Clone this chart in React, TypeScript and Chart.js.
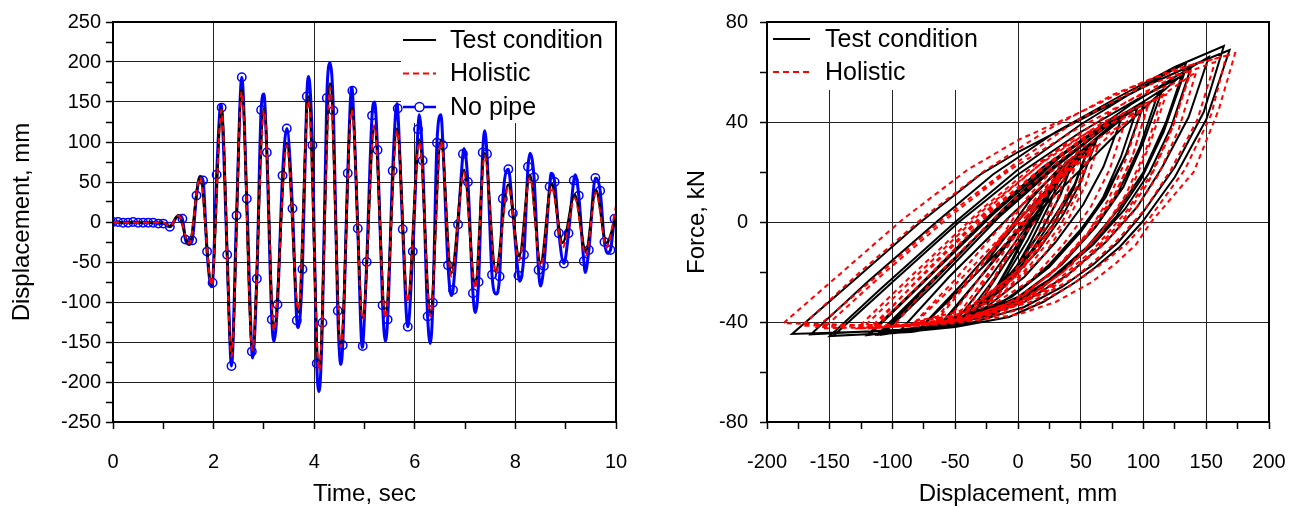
import React, { useEffect, useRef } from "react";
import { Chart, registerables } from "chart.js";
Chart.register(...registerables);

const FONT = "'Liberation Sans', Arial, Helvetica, sans-serif";

// ---------------- Left panel: displacement time histories ----------------
const peakTimes = [0, 0.5, 1.0, 1.13, 1.3, 1.515, 1.73, 1.96, 2.157, 2.356, 2.56, 2.77, 3.005, 3.2, 3.456, 3.686, 3.885, 4.097, 4.316, 4.528, 4.747, 4.965, 5.196, 5.414, 5.647, 5.859, 6.09, 6.31, 6.52, 6.725, 6.98, 7.2, 7.39, 7.61, 7.857, 8.076, 8.288, 8.5, 8.72, 8.94, 9.18, 9.4, 9.6, 9.81, 10.0];
const testDisp = [0, -1, -1, -5, 8, -28, 57, -78, 142, -165, 166, -158, 142, -133, 98, -113, 157, -182, 173, -153, 143, -120, 119, -115, 117, -97, 103, -113, 103, -64, 65, -79, 86, -61, 47, -43, 59, -51, 47, -26, 34, -36, 40, -26, 6];
const holisticDisp = [0, -1, -1, -5, 8, -27, 56, -79, 140, -168, 163, -160, 140, -136, 96, -110, 152, -186, 168, -156, 140, -122, 121, -120, 114, -100, 100, -118, 101, -68, 62, -83, 83, -64, 44, -48, 56, -56, 44, -32, 30, -42, 37, -32, 20];

const noPipeTime = [0, 0.1, 0.2, 0.3, 0.4, 0.5, 0.6, 0.7, 0.8, 0.9, 1.0, 1.13, 1.3, 1.38, 1.44, 1.515, 1.575, 1.66, 1.73, 1.79, 1.87, 1.955, 1.98, 2.06, 2.145, 2.16, 2.27, 2.356, 2.456, 2.56, 2.66, 2.76, 2.775, 2.86, 2.945, 3.0, 3.058, 3.157, 3.2, 3.27, 3.37, 3.455, 3.568, 3.654, 3.686, 3.766, 3.853, 3.885, 3.965, 4.051, 4.097, 4.163, 4.25, 4.316, 4.382, 4.468, 4.528, 4.567, 4.667, 4.745, 4.759, 4.866, 4.955, 4.965, 5.044, 5.15, 5.2, 5.26, 5.36, 5.414, 5.46, 5.56, 5.647, 5.66, 5.76, 5.86, 5.96, 6.063, 6.09, 6.156, 6.255, 6.31, 6.36, 6.44, 6.52, 6.56, 6.66, 6.725, 6.76, 6.86, 6.957, 6.98, 7.056, 7.156, 7.2, 7.268, 7.35, 7.39, 7.435, 7.535, 7.62, 7.686, 7.75, 7.86, 7.95, 8.06, 8.085, 8.17, 8.25, 8.29, 8.37, 8.46, 8.5, 8.566, 8.68, 8.71, 8.78, 8.864, 8.964, 9.056, 9.16, 9.19, 9.26, 9.36, 9.39, 9.46, 9.59, 9.685, 9.77, 9.83, 9.89, 9.97, 10.0];
const noPipeDisp = [0, 0, -1, -1, 0, -1, -1, -1, -1, -2, -2, -6, 8, 4, -22, -28, -23, 33, 57, 52, -37, -81, -76, 59, 147, 143, -41, -180, 8, 181, 29, -162, -170, -71, 140, 160, 87, -122, -149, -103, 58, 117, 17, -123, -132, -59, 157, 182, 96, -177, -212, -126, 155, 199, 139, -111, -178, -154, 61, 168, 164, -8, -157, -155, -50, 133, 150, 90, -104, -149, -122, 64, 148, 142, -9, -131, -37, 116, 134, 77, -118, -152, -101, 99, 134, 96, -54, -92, -85, -3, 85, 92, 50, -89, -113, -75, 87, 114, 85, -66, -90, -68, 29, 66, 11, -67, -74, -41, 69, 86, 56, -60, -80, -55, 44, 61, 50, -14, -52, -14, 52, 59, 33, -49, -63, -35, 55, 39, -25, -39, -35, 4, 8];
const noPipeMarker = [1, 1, 1, 1, 1, 1, 1, 1, 1, 1, 1, 1, 0, 1, 1, 0, 1, 1, 0, 1, 1, 0, 1, 1, 0, 1, 1, 1, 1, 1, 1, 1, 0, 1, 1, 0, 1, 1, 0, 1, 1, 1, 1, 1, 0, 1, 1, 0, 1, 1, 0, 1, 1, 0, 1, 1, 0, 1, 1, 0, 1, 1, 0, 1, 1, 1, 0, 1, 1, 0, 1, 1, 0, 1, 1, 1, 1, 1, 0, 1, 1, 0, 1, 1, 0, 1, 1, 0, 1, 1, 1, 0, 1, 1, 0, 1, 1, 0, 1, 1, 0, 1, 1, 1, 1, 1, 0, 1, 1, 0, 1, 1, 0, 1, 1, 0, 1, 1, 1, 1, 1, 0, 1, 1, 0, 1, 1, 1, 1, 0, 1, 1, 0];

const timeTicks = [0, 1, 2, 3, 4, 5, 6, 7, 8, 9, 10];
const timeLabels = [0, 2, 4, 6, 8, 10];
const timeGrid = [2, 4, 6, 8];
const dispTicks = [-250, -225, -200, -175, -150, -125, -100, -75, -50, -25, 0, 25, 50, 75, 100, 125, 150, 175, 200, 225, 250];
const dispLabels = [-250, -200, -150, -100, -50, 0, 50, 100, 150, 200, 250];
const dispGrid = [-200, -150, -100, -50, 0, 50, 100, 150, 200];

// ---------------- Right panel: force-displacement hysteresis ----------------
const hystTestDisp = [0, -10, -28, -10, 10, 30, 45, 57, 45, 30, 10, -20, -50, -77, -40, 0, 40, 80, 110, 138, 122, 105, 85, 60, 30, 0, -40, -90, -165, -120, -65, -20, 30, 80, 125, 164, 148, 125, 97, 80, 60, 35, 5, -35, -85, -150, -110, -50, 0, 50, 95, 134, 118, 100, 80, 55, 25, -10, -55, -120, -80, -20, 20, 60, 95, 82, 68, 50, 25, -5, -45, -110, -70, -10, 40, 90, 125, 152, 136, 115, 95, 70, 40, 5, -40, -100, -180, -130, -80, -30, 0, 50, 100, 140, 168.6, 150, 125, 99, 81, 62, 46, 20, -7, -50, -100, -147, -100, -47, 0, 50, 95, 132, 116, 98, 78, 52, 20, -20, -65, -118, -75, -20, 25, 70, 115, 100, 84, 62, 35, 0, -45, -112, -70, -15, 30, 72, 112, 97, 80, 60, 30, -5, -45, -95, -55, -5, 40, 75, 100.6, 86, 70, 50, 20, -15, -60, -108, -65, -15, 30, 70, 100, 86, 70, 50, 25, 0, -30, -62, -35, -5, 25, 45, 62, 50, 36, 15, -15, -45, -77, -45, -10, 25, 55, 82, 68, 52, 30, 5, -25, -60, -30, 0, 25, 45, 33, 18, 0, -20, -42, -15, 10, 35, 57, 44, 28, 5, -22, -50, -22, 5, 28, 45, 34, 20, 3, -25, -5, 15, 33, 22, 8, -10, -35, -12, 12, 38, 26, 10, -6, -25, -8, 8];
const hystTestForce = [0, -6, -18, -5, 9, 20, 26, 31, 15, 3, -12, -28, -38, -42, -24, -4, 16, 36, 50, 62, 38, 20, 5, -9, -22, -32, -39, -43, -44.9, -24, 0, 19, 36, 50, 62, 70.4, 44, 22, 2, -8, -17, -26, -34, -40, -44, -45.6, -27, 0, 21, 39, 53, 63.7, 40, 20, 5, -10, -23, -34, -41, -45.2, -26, 4, 22, 36, 45.5, 26, 10, -4, -18, -30, -39, -45, -25, 6, 29, 47, 58, 66, 42, 22, 6, -8, -21, -32, -39.5, -43.5, -44.8, -23, -1, 19, 28, 41, 54, 63, 68.8, 41, 18, 0, -10, -18, -24, -32, -38, -42, -44.5, -45.5, -24, 0, 19, 36, 49, 58.8, 36, 17, 2, -12, -26, -37, -42.5, -45, -24, 3, 23, 39, 52.8, 32, 14, -2, -17, -30, -40, -45, -24, 3, 23, 39, 52, 30, 12, -3, -19, -32, -40, -44, -22, 3, 24, 39, 47.5, 27, 10, -4, -20, -33, -41.5, -45, -24, 2, 22, 38, 47, 27, 11, -3, -17, -28, -37, -41, -25, -6, 12, 24, 32, 16, 3, -12, -28, -38, -42, -25, -5, 14, 30, 40.8, 22, 7, -8, -22, -34, -41, -22, -4, 12, 26, 10, -4, -17, -29, -38, -20, -2, 16, 30.4, 13, -1, -16, -31, -40, -22, -3, 13, 26, 11, -2, -15, -33, -16, 3, 22, 7, -7, -22, -36, -18, 1, 24, 8, -8, -22, -33, -18, -3];

const hystHolDisp = [0, -12, -29, -12, 6, 26, 44, 58, 48, 34, 15, -15, -48, -80, -46, -8, 34, 76, 110, 142, 128, 112, 92, 66, 36, 5, -38, -92, -172, -128, -75, -28, 24, 76, 124, 166, 154, 133, 104, 86, 66, 40, 10, -32, -85, -160, -118, -58, -6, 45, 94, 138, 124, 106, 86, 60, 30, -5, -52, -128, -88, -27, 14, 56, 98, 86, 72, 55, 30, 0, -42, -116, -78, -18, 34, 86, 124, 157, 143, 122, 101, 76, 46, 10, -36, -100, -187, -140, -92, -40, 1, 50, 100, 140, 173, 160, 140, 106, 94, 78, 59, 30, 0, -50, -100, -155, -108, -55, -6, 46, 94, 136, 121, 104, 84, 58, 26, -15, -62, -124, -82, -27, 20, 68, 118, 105, 90, 68, 41, 6, -40, -118, -77, -22, 25, 70, 115, 102, 86, 66, 36, 1, -40, -100, -62, -12, 34, 72, 103, 91, 76, 56, 26, -9, -56, -114, -72, -22, 24, 66, 103, 91, 76, 56, 31, 6, -26, -66, -40, -10, 20, 42, 64, 54, 41, 21, -10, -42, -82, -50, -16, 20, 52, 85, 73, 58, 36, 11, -20, -64, -35, -5, 22, 47, 37, 23, 5, -16, -46, -20, 6, 32, 59, 48, 33, 10, -17, -54, -27, 1, 25, 47, 38, 25, 8, -29, -10, 12, 35, 26, 13, -6, -39, -17, 8, 40, 30, 15, -2, -29, -12, 16];
const hystHolForce = [0, -6, -17, -5, 9, 20, 26, 30, 15, 3, -12, -27, -36, -39.5, -23, -3, 17, 36, 49, 60, 37, 19, 4, -10, -23, -32, -38, -41, -41.5, -21, 2, 20, 37, 51, 61, 66.5, 43, 21, 1, -9, -17, -26, -34, -39, -41.5, -42, -24, 2, 22, 40, 53, 61, 39, 19, 4, -11, -24, -34, -39.5, -42.5, -23, 6, 23, 36, 44, 25, 9, -5, -19, -31, -38.5, -42.5, -22, 8, 30, 48, 58, 64, 41, 21, 5, -9, -22, -32, -38.5, -41.5, -40.5, -20, 1, 21, 33, 44, 56, 63, 67.5, 45, 20, 0, -9, -16.5, -24, -32, -37, -40.5, -42, -42.5, -21, 2, 21, 37, 50, 57.5, 35, 16, 1, -13, -27, -36.5, -41, -42.5, -22, 5, 24, 40, 51, 31, 13, -3, -18, -31, -39, -42.5, -22, 5, 24, 40, 50.5, 29, 11, -4, -20, -32, -39, -42, -20, 5, 25, 39, 46, 26, 9, -5, -21, -33, -40, -42.5, -22, 4, 23, 38, 45.5, 26, 10, -4, -18, -29, -36.5, -39, -23, -5, 13, 24, 31, 15, 2, -13, -28, -36.5, -40, -23, -3, 15, 30, 39.5, 21, 6, -9, -23, -33, -39, -21, -2, 13, 25, 9, -5, -18, -29, -36, -18, 0, 17, 29.5, 12, -2, -17, -31, -38, -20, -1, 14, 25, 10, -3, -16, -31, -15, 5, 21, 6, -8, -22, -34, -16, 3, 23, 7, -9, -22, -31, -16, 2];

const mmTicks = [-200, -175, -150, -125, -100, -75, -50, -25, 0, 25, 50, 75, 100, 125, 150, 175, 200];
const mmLabels = [-200, -150, -100, -50, 0, 50, 100, 150, 200];
const mmGrid = [-150, -100, -50, 0, 50, 100, 150];
const kNTicks = [-80, -60, -40, -20, 0, 20, 40, 60, 80];
const kNLabels = [-80, -40, 0, 40, 80];
const kNGrid = [-40, 0, 40];

// ---------------- helpers ----------------
const toPts = (xs: number[], ys: number[]) => xs.map((x, i) => ({ x, y: ys[i] }));
const TRANSPARENT = "rgba(0,0,0,0)";
const tickFont = { family: FONT, size: 20 };
const titleFont = { family: FONT, size: 24 };
const legendFont = `25px ${FONT}`;

const framePlugin = {
  id: "frame",
  afterDraw(chart: any) {
    const { ctx, chartArea: a } = chart;
    ctx.save();
    ctx.strokeStyle = "#000";
    ctx.lineWidth = 2;
    ctx.strokeRect(a.left, a.top, a.right - a.left, a.bottom - a.top);
    ctx.restore();
  },
};

type LegendItem = { label: string; color: string; width: number; dash: number[]; marker?: boolean; y: number };

function makeLegend(id: string, box: { x0: number; x1: number; y1: number }, lineX0: number, lineX1: number, textX: number, items: LegendItem[]) {
  return {
    id,
    beforeDatasetsDraw(chart: any) {
      const { ctx, chartArea: a } = chart;
      ctx.save();
      ctx.fillStyle = "#fff";
      ctx.fillRect(box.x0, a.top + 1, box.x1 - box.x0, box.y1 - a.top - 1);
      ctx.restore();
    },
    afterDraw(chart: any) {
      const { ctx } = chart;
      ctx.save();
      for (const it of items) {
        ctx.strokeStyle = it.color;
        ctx.lineWidth = it.width;
        ctx.setLineDash(it.dash);
        ctx.beginPath();
        ctx.moveTo(lineX0, it.y);
        ctx.lineTo(lineX1, it.y);
        ctx.stroke();
        ctx.setLineDash([]);
        if (it.marker) {
          ctx.lineWidth = 1.5;
          ctx.beginPath();
          ctx.arc((lineX0 + lineX1) / 2, it.y, 4.5, 0, Math.PI * 2);
          ctx.fillStyle = "#fff";
          ctx.fill();
          ctx.stroke();
        }
        ctx.fillStyle = "#000";
        ctx.font = legendFont;
        ctx.textBaseline = "middle";
        ctx.textAlign = "left";
        ctx.fillText(it.label, textX, it.y + 1);
      }
      ctx.restore();
    },
  };
}

function axis(opts: {
  min: number; max: number; ticks: number[]; labels: number[]; grid: number[];
  title: string; titlePad: any; size: number; horizontal: boolean; labelPad: number;
}) {
  return {
    type: "linear",
    min: opts.min,
    max: opts.max,
    afterBuildTicks: (s: any) => {
      s.ticks = opts.ticks.map((v) => ({ value: v }));
    },
    ticks: {
      autoSkip: false,
      maxRotation: 0,
      minRotation: 0,
      font: tickFont,
      color: "#000",
      padding: opts.labelPad,
      callback: (v: number) => (opts.labels.includes(v) ? String(v) : ""),
    },
    grid: {
      color: (c: any) => (c.tick && opts.grid.includes(c.tick.value) ? "#222" : TRANSPARENT),
      tickColor: "#000",
      tickLength: 7,
      tickWidth: 1.5,
      lineWidth: 1,
    },
    border: { display: false },
    title: { display: true, text: opts.title, font: titleFont, color: "#000", padding: opts.titlePad },
    afterFit: (s: any) => {
      if (opts.horizontal) s.height = opts.size;
      else s.width = opts.size;
      s.paddingLeft = 0;
      s.paddingRight = 0;
      s.paddingTop = 0;
      s.paddingBottom = 0;
    },
  };
}

function leftConfig(): any {
  return {
    type: "scatter",
    data: {
      datasets: [
        {
          label: "Holistic",
          data: toPts(peakTimes, holisticDisp),
          showLine: true,
          borderColor: "#ff0000",
          borderWidth: 2,
          borderDash: [6, 4],
          pointRadius: 0,
          cubicInterpolationMode: "monotone",
          order: 0,
        },
        {
          label: "Test condition",
          data: toPts(peakTimes, testDisp),
          showLine: true,
          borderColor: "#000",
          borderWidth: 2.5,
          pointRadius: 0,
          cubicInterpolationMode: "monotone",
          order: 1,
        },
        {
          label: "No pipe",
          data: toPts(noPipeTime, noPipeDisp),
          showLine: true,
          borderColor: "#0000ff",
          borderWidth: 3,
          pointRadius: noPipeMarker.map((m) => (m ? 4.2 : 0)),
          pointBorderWidth: 1.5,
          pointBorderColor: "#0000ff",
          pointBackgroundColor: TRANSPARENT,
          cubicInterpolationMode: "monotone",
          order: 2,
        },
      ],
    },
    options: {
      animation: false,
      responsive: false,
      events: [],
      layout: { padding: { left: 0, right: 34, top: 22, bottom: 0 } },
      plugins: { legend: { display: false }, tooltip: { enabled: false } },
      scales: {
        x: axis({ min: 0, max: 10, ticks: timeTicks, labels: timeLabels, grid: timeGrid, title: "Time, sec", titlePad: { top: 0, bottom: 1 }, size: 88, horizontal: true, labelPad: 21 }),
        y: axis({ min: -250, max: 250, ticks: dispTicks, labels: dispLabels, grid: dispGrid, title: "Displacement, mm", titlePad: { top: 8, bottom: 0 }, size: 113, horizontal: false, labelPad: 5 }),
      },
    },
    plugins: [
      framePlugin,
      makeLegend("legL", { x0: 401, x1: 615, y1: 123 }, 403, 436, 450, [
        { label: "Test condition", color: "#000", width: 2, dash: [], y: 40 },
        { label: "Holistic", color: "#ff0000", width: 2, dash: [6, 4], y: 73.5 },
        { label: "No pipe", color: "#0000ff", width: 2.5, dash: [], marker: true, y: 107 },
      ]),
    ],
  };
}

function rightConfig(): any {
  return {
    type: "scatter",
    data: {
      datasets: [
        {
          label: "Holistic",
          data: toPts(hystHolDisp, hystHolForce),
          showLine: true,
          borderColor: "#ff0000",
          borderWidth: 2,
          borderDash: [5, 4],
          pointRadius: 0,
          tension: 0,
          order: 0,
        },
        {
          label: "Test condition",
          data: toPts(hystTestDisp, hystTestForce),
          showLine: true,
          borderColor: "#000",
          borderWidth: 2,
          pointRadius: 0,
          tension: 0,
          order: 1,
        },
      ],
    },
    options: {
      animation: false,
      responsive: false,
      events: [],
      layout: { padding: { left: 0, right: 31, top: 22, bottom: 0 } },
      plugins: { legend: { display: false }, tooltip: { enabled: false } },
      scales: {
        x: axis({ min: -200, max: 200, ticks: mmTicks, labels: mmLabels, grid: mmGrid, title: "Displacement, mm", titlePad: { top: 0, bottom: 1 }, size: 88, horizontal: true, labelPad: 21 }),
        y: axis({ min: -80, max: 80, ticks: kNTicks, labels: kNLabels, grid: kNGrid, title: "Force, kN", titlePad: { top: 33, bottom: 0 }, size: 117, horizontal: false, labelPad: 12 }),
      },
    },
    plugins: [
      framePlugin,
      makeLegend("legR", { x0: 118, x1: 350, y1: 90 }, 123, 160, 175, [
        { label: "Test condition", color: "#000", width: 2, dash: [], y: 39 },
        { label: "Holistic", color: "#ff0000", width: 2, dash: [6, 4], y: 72 },
      ]),
    ],
  };
}

export default function App() {
  const leftRef = useRef<HTMLCanvasElement>(null);
  const rightRef = useRef<HTMLCanvasElement>(null);
  useEffect(() => {
    const c1 = new Chart(leftRef.current as HTMLCanvasElement, leftConfig());
    const c2 = new Chart(rightRef.current as HTMLCanvasElement, rightConfig());
    return () => {
      c1.destroy();
      c2.destroy();
    };
  }, []);
  return (
    <div style={{ position: "absolute", left: 0, top: 0, width: 1300, height: 510, background: "#fff" }}>
      <canvas ref={leftRef} width={650} height={510} style={{ position: "absolute", left: 0, top: 0, width: 650, height: 510 }} />
      <canvas ref={rightRef} width={650} height={510} style={{ position: "absolute", left: 650, top: 0, width: 650, height: 510 }} />
    </div>
  );
}
